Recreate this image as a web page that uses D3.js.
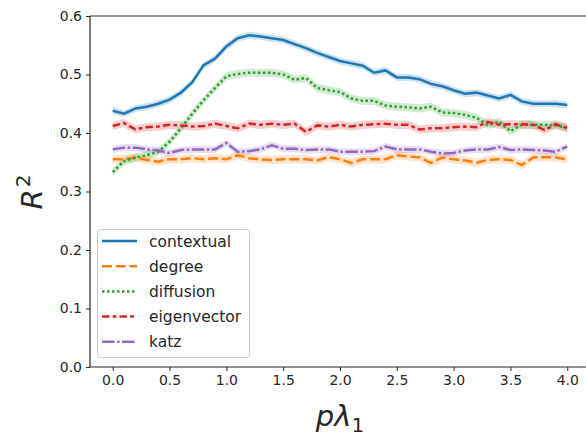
<!DOCTYPE html>
<html><head><meta charset="utf-8">
<script src="https://cdn.jsdelivr.net/npm/d3@7"></script>
<style>
body{margin:0;background:#fff;}
text{font-family:"DejaVu Sans",sans-serif;fill:#262626;}
</style></head>
<body><svg id="c" width="586" height="436"></svg>
<script>
const xValues = d3.range(41).map(i => +(i * 0.1).toFixed(1));
const seriesNames = ["contextual", "degree", "diffusion", "eigenvector", "katz"];
const contextual = [0.438,0.433,0.442,0.445,0.450,0.457,0.469,0.487,0.516,0.527,0.548,0.562,0.567,0.565,0.562,0.559,0.552,0.545,0.537,0.530,0.523,0.519,0.515,0.503,0.507,0.495,0.495,0.492,0.484,0.480,0.473,0.467,0.469,0.464,0.459,0.465,0.454,0.450,0.450,0.450,0.448];
const degree = [0.355,0.355,0.358,0.354,0.351,0.355,0.355,0.357,0.355,0.357,0.355,0.362,0.357,0.355,0.354,0.355,0.355,0.355,0.353,0.359,0.355,0.349,0.355,0.355,0.355,0.362,0.360,0.358,0.349,0.358,0.355,0.353,0.349,0.354,0.355,0.354,0.345,0.358,0.359,0.358,0.355];
const diffusion = [0.333,0.352,0.358,0.362,0.368,0.385,0.408,0.433,0.456,0.477,0.497,0.501,0.503,0.503,0.503,0.500,0.491,0.494,0.477,0.473,0.470,0.459,0.455,0.455,0.447,0.445,0.444,0.442,0.445,0.435,0.434,0.431,0.426,0.414,0.419,0.403,0.414,0.414,0.414,0.413,0.409];
const eigenvector = [0.412,0.417,0.406,0.410,0.411,0.414,0.413,0.411,0.412,0.416,0.412,0.408,0.416,0.414,0.416,0.414,0.416,0.402,0.413,0.411,0.414,0.411,0.414,0.415,0.416,0.414,0.414,0.406,0.408,0.408,0.410,0.411,0.410,0.419,0.414,0.415,0.415,0.414,0.405,0.415,0.408];
const katz = [0.372,0.375,0.375,0.372,0.370,0.366,0.371,0.372,0.372,0.372,0.383,0.368,0.369,0.372,0.379,0.373,0.373,0.371,0.372,0.372,0.368,0.368,0.368,0.369,0.377,0.372,0.372,0.372,0.368,0.365,0.366,0.370,0.372,0.372,0.376,0.371,0.372,0.371,0.370,0.368,0.377];
const ciHalf = [0.006, 0.007, 0.007, 0.007, 0.006];
const xTicks = [0,0.5,1,1.5,2,2.5,3,3.5,4];
const yTicks = [0,0.1,0.2,0.3,0.4,0.5,0.6];

const allSeries = [contextual, degree, diffusion, eigenvector, katz];
const colors = ["#1f77b4","#ff7f0e","#2ca02c","#d62728","#9467bd"];
const lw = 2.5;
const dashes = [null, [4,1.5], [1,1], [3,1.25,1.5,1.25], [5,1,1,1]].map(d => d ? d.map(v => v*lw).join(",") : null);

const svg = d3.select("#c");
const L = 90, R = 590, T = 16, B = 367;
const x = d3.scaleLinear().domain([-0.2, 4.2]).range([L, R]);
const y = d3.scaleLinear().domain([0, 0.6]).range([B, T]);

const g = svg.append("g");
allSeries.forEach((s, i) => {
  g.append("path")
    .datum(s)
    .attr("d", d3.area().x((d, j) => x(xValues[j])).y0(d => y(d - ciHalf[i])).y1(d => y(d + ciHalf[i])))
    .attr("fill", colors[i]).attr("fill-opacity", 0.22).attr("stroke", "none");
});
allSeries.forEach((s, i) => {
  const p = g.append("path")
    .datum(s)
    .attr("d", d3.line().x((d, j) => x(xValues[j])).y(d => y(d)))
    .attr("fill", "none").attr("stroke", colors[i]).attr("stroke-width", lw);
  if (dashes[i]) p.attr("stroke-dasharray", dashes[i]);
});

const xAxis = svg.append("g").attr("transform", `translate(0,${B})`)
  .call(d3.axisBottom(x).tickValues(xTicks).tickFormat(d3.format(".1f")).tickSize(4).tickPadding(4));
const yAxis = svg.append("g").attr("transform", `translate(${L},0)`)
  .call(d3.axisLeft(y).tickValues(yTicks).tickFormat(d3.format(".1f")).tickSize(4).tickPadding(4));
[xAxis, yAxis].forEach(a => {
  a.selectAll("text").attr("font-size", 14).attr("font-family", "DejaVu Sans").attr("fill", "#262626");
  a.selectAll("line").attr("stroke", "#262626").attr("stroke-width", 1);
  a.select(".domain").remove();
});
svg.append("line").attr("x1", L).attr("x2", L).attr("y1", T).attr("y2", B).attr("stroke", "#262626").attr("stroke-width", 1.2);
svg.append("line").attr("x1", L).attr("x2", R).attr("y1", B).attr("y2", B).attr("stroke", "#262626").attr("stroke-width", 1.2);
svg.append("line").attr("x1", L).attr("x2", R).attr("y1", T).attr("y2", T).attr("stroke", "#262626").attr("stroke-width", 1.2);
svg.append("line").attr("x1", R).attr("x2", R).attr("y1", T).attr("y2", B).attr("stroke", "#262626").attr("stroke-width", 1.2);

const xl = svg.append("text").attr("x", 340).attr("y", 426).attr("text-anchor", "middle").attr("font-size", 29);
xl.append("tspan").attr("font-style", "italic").text("pλ");
xl.append("tspan").attr("font-size", 20).attr("dy", 6).text("1");
const yl = svg.append("text").attr("transform", "translate(42,192) rotate(-90)").attr("text-anchor", "middle").attr("font-size", 29);
yl.append("tspan").attr("font-style", "italic").text("R");
yl.append("tspan").attr("font-size", 20).attr("dy", -12).attr("dx", 2).text("2");

const lg = svg.append("g");
lg.append("rect").attr("x", 97.5).attr("y", 229.5).attr("width", 152).attr("height", 128).attr("rx", 3)
  .attr("fill", "#fff").attr("fill-opacity", 0.8).attr("stroke", "#cccccc").attr("stroke-width", 1);
seriesNames.forEach((n, i) => {
  const cy = 241 + i * 25.2;
  const ln = lg.append("line").attr("x1", 102).attr("x2", 137).attr("y1", cy).attr("y2", cy)
    .attr("stroke", colors[i]).attr("stroke-width", lw);
  if (dashes[i]) ln.attr("stroke-dasharray", dashes[i]);
  lg.append("text").attr("x", 149).attr("y", cy + 5.5).attr("font-size", 15.5).text(n);
});
</script></body></html>
